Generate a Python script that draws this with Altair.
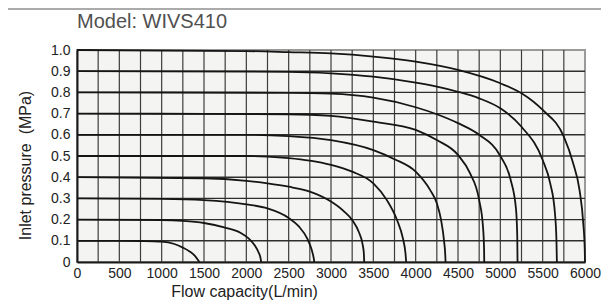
import altair as alt
import pandas as pd

# ---- data ----
x_label_values = [0, 500, 1000, 1500, 2000, 2500, 3000, 3500, 4000, 4500, 5000, 5500, 6000]
y_label_values = [0, 0.1, 0.2, 0.3, 0.4, 0.5, 0.6, 0.7, 0.8, 0.9, 1.0]
v_grid = [250, 500, 750, 1000, 1250, 1500, 1750, 2000, 2250, 2500, 2750, 3000, 3250,
          3500, 3750, 4000, 4250, 4500, 4750, 5000, 5250, 5500, 5750]
h_grid = [0.1, 0.2, 0.3, 0.4, 0.5, 0.6, 0.7, 0.8, 0.9]
title_text = ["Model: WIVS410"]

c01_flow = [0, 500, 750, 1000, 1150, 1250, 1330, 1390, 1425, 1445]
c01_p = [0.1, 0.1, 0.099, 0.096, 0.085, 0.068, 0.05, 0.03, 0.012, 0]

c02_flow = [0, 1000, 1250, 1500, 1750, 1930, 2030, 2100, 2145, 2168, 2175]
c02_p = [0.2, 0.198, 0.194, 0.184, 0.162, 0.138, 0.11, 0.078, 0.045, 0.018, 0]

c03_flow = [0, 1000, 1500, 2000, 2250, 2500, 2620, 2720, 2770, 2795, 2803]
c03_p = [0.3, 0.298, 0.292, 0.272, 0.253, 0.208, 0.168, 0.11, 0.06, 0.02, 0]

c04_flow = [0, 1500, 2000, 2250, 2500, 2750, 3000, 3150, 3250, 3330, 3375, 3388, 3392]
c04_p = [0.4, 0.395, 0.383, 0.371, 0.355, 0.332, 0.285, 0.24, 0.198, 0.14, 0.08, 0.04, 0]

c05_flow = [0, 2000, 2250, 2500, 2750, 3000, 3250, 3500, 3660, 3780, 3850, 3880, 3888]
c05_p = [0.5, 0.5, 0.497, 0.49, 0.478, 0.458, 0.426, 0.371, 0.292, 0.198, 0.11, 0.04, 0]

c06_flow = [0, 2000, 2500, 3000, 3500, 3750, 4000, 4170, 4250, 4300, 4335, 4350, 4353]
c06_p = [0.6, 0.6, 0.594, 0.575, 0.528, 0.485, 0.426, 0.34, 0.277, 0.198, 0.1, 0.03, 0]

c07_flow = [0, 2500, 3000, 3500, 4000, 4250, 4500, 4640, 4750, 4795, 4808, 4810]
c07_p = [0.7, 0.697, 0.689, 0.662, 0.623, 0.575, 0.505, 0.42, 0.292, 0.167, 0.06, 0]

c08_flow = [0, 2500, 3000, 3500, 4000, 4250, 4500, 4750, 5000, 5120, 5185, 5200, 5203]
c08_p = [0.8, 0.798, 0.794, 0.775, 0.73, 0.697, 0.655, 0.6, 0.5, 0.39, 0.25, 0.12, 0]

c09_flow = [0, 2500, 3000, 3500, 4000, 4250, 4500, 4750, 5000, 5250, 5500, 5590, 5645, 5663, 5668]
c09_p = [0.9, 0.897, 0.89, 0.874, 0.846, 0.827, 0.803, 0.772, 0.725, 0.638, 0.481, 0.37, 0.23, 0.1, 0]

c10_flow = [0, 2000, 2500, 3000, 3500, 4000, 4500, 5000, 5250, 5500, 5750, 5860, 5935, 5980, 5997, 6000]
c10_p = [1.0, 0.995, 0.99, 0.984, 0.969, 0.945, 0.906, 0.843, 0.796, 0.717, 0.591, 0.466, 0.34, 0.18, 0.06, 0]

curves = {
    "0.1": (c01_flow, c01_p), "0.2": (c02_flow, c02_p), "0.3": (c03_flow, c03_p),
    "0.4": (c04_flow, c04_p), "0.5": (c05_flow, c05_p), "0.6": (c06_flow, c06_p),
    "0.7": (c07_flow, c07_p), "0.8": (c08_flow, c08_p), "0.9": (c09_flow, c09_p),
    "1.0": (c10_flow, c10_p),
}

rows = []
for name, (fl, pr) in curves.items():
    for i, (f, p) in enumerate(zip(fl, pr)):
        rows.append({"curve": name, "idx": i, "flow": f, "pressure": p})
df = pd.DataFrame(rows)

FONT = "Liberation Sans"
xscale = alt.Scale(domain=[0, 6000], nice=False, zero=True)
yscale = alt.Scale(domain=[0, 1], nice=False, zero=True)

x_axis = alt.Axis(
    values=x_label_values, format="d", ticks=False, grid=False,
    domainColor="#1a1a1a", domainWidth=2, labelFont=FONT, labelFontSize=14,
    labelColor="#222", labelPadding=4, labelFlush=False, labelOverlap=False,
    title="Flow capacity(L/min)", titleFont=FONT, titleFontSize=16,
    titleFontWeight="normal", titleColor="#222", titleX=167, titleY=34,
    titleAlign="center", titleBaseline="alphabetic")
y_axis = alt.Axis(
    values=y_label_values, ticks=False, grid=False,
    labelExpr="datum.value == 0 ? '0' : format(datum.value, '.1f')",
    domainColor="#1a1a1a", domainWidth=2, labelFont=FONT, labelFontSize=14,
    labelColor="#222", labelPadding=7, labelFlush=False, labelOverlap=False,
    title="Inlet pressure\u00a0 (MPa)", titleFont=FONT, titleFontSize=16,
    titleFontWeight="normal", titleColor="#222", titleX=-52, titleY=115,
    titleAngle=270, titleAlign="center", titleBaseline="middle")

vgrid = alt.Chart(pd.DataFrame({"flow": v_grid})).mark_rule(
    color="#3c3c3c", strokeWidth=1.2
).encode(x=alt.X("flow:Q", scale=xscale, axis=x_axis))

hgrid = alt.Chart(pd.DataFrame({"pressure": h_grid})).mark_rule(
    color="#2e2e2e", strokeWidth=1.4
).encode(y=alt.Y("pressure:Q", scale=yscale, axis=y_axis))

lines = alt.Chart(df).mark_line(
    interpolate="monotone", color="#151515", strokeWidth=1.8
).encode(
    x=alt.X("flow:Q", scale=xscale, axis=x_axis),
    y=alt.Y("pressure:Q", scale=yscale, axis=y_axis),
    detail="curve:N",
    order="idx:Q",
)

topline = alt.Chart(pd.DataFrame({"a": [0]})).mark_rule(
    color="#ababab", strokeWidth=2
).encode(x=alt.value(-69), x2=alt.value(524), y=alt.value(-41))

title = alt.Chart(pd.DataFrame({"t": title_text})).mark_text(
    font=FONT, fontSize=20, color="#505050", align="left", baseline="alphabetic"
).encode(text="t:N", x=alt.value(0), y=alt.value(-22))

chart = alt.layer(vgrid, hgrid, lines, topline, title).properties(
    width=508, height=212,
    autosize=alt.AutoSizeParams(type="none"),
    padding={"left": 69, "top": 42, "right": 16, "bottom": 38},
).configure_view(fill="#f4f4f2", stroke="#9a9a9a", strokeWidth=2)

chart.save("out.html", embed_options={"renderer": "svg", "actions": False})
